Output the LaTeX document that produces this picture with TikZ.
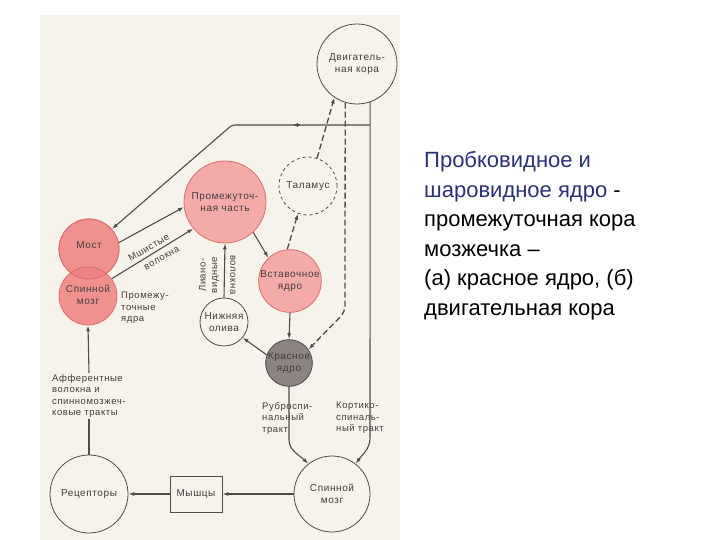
\documentclass[tikz,border=0pt]{standalone}
\usepackage{fontspec}
\setmainfont{Liberation Sans}
\newfontfamily\diagfont[LetterSpace=6]{Liberation Sans}
\usetikzlibrary{arrows.meta}
\definecolor{bg}{RGB}{246,243,236}
\definecolor{ln}{RGB}{80,76,74}
\definecolor{txt}{RGB}{65,62,60}
\definecolor{pinkL}{RGB}{245,170,170}
\definecolor{pinkM}{RGB}{240,128,128}
\definecolor{pinkD}{RGB}{222,110,110}
\definecolor{rednuc}{RGB}{140,132,130}
\definecolor{navy}{RGB}{42,50,118}
\tikzset{
  circ/.style={circle, draw=ln, line width=0.8pt, inner sep=0pt, align=center,
    font=\diagfont\fontsize{10}{11.5}\selectfont, text=txt},
  pinkc/.style={circ, draw=pinkD, fill=pinkL},
  conn/.style={draw=ln, line width=1.1pt, -{Latex[length=6pt,width=4pt]}},
  plain/.style={draw=ln, line width=1.1pt},
  dconn/.style={conn, dash pattern=on 6pt off 3pt},
  lbl/.style={font=\diagfont\fontsize{9.5}{11.5}\selectfont, text=txt, align=left, inner sep=1pt},
  rtxt/.style={font=\fontsize{22}{29.5}\selectfont, anchor=base west, inner sep=0pt}
}
\begin{document}
\begin{tikzpicture}[x=1pt,y=-1pt]
\useasboundingbox (0,0) rectangle (720,540);
\fill[white] (0,0) rectangle (720,540);
\fill[bg] (40,15) rectangle (400,540);

% nodes
\node[circ, minimum size=80pt] (motor) at (357,64) {Двигатель-\\ная кора};
\node[circ, dashed, minimum size=58pt] (thal) at (308,186) {Таламус};
\node[pinkc, minimum size=82pt] (interm) at (225,202) {Промежуточ-\\ная часть};
\node[pinkc, minimum size=58pt] (vst) at (290,281) {Вставочное\\ядро};
\node[circ, minimum size=48pt] (oliva) at (224,322) {Нижняя\\олива};
\node[circ, fill=rednuc, minimum size=46pt] (red) at (289,363) {Красное\\ядро};
\node[pinkc, fill=pinkM, fill opacity=0.85, text opacity=1, minimum size=60pt] (most) at (89,249) {};
\node[pinkc, fill=pinkM, fill opacity=0.85, text opacity=1, minimum size=58pt] (spin1) at (88,296) {};
\draw[pinkD, line width=0.8pt] (most) circle (30pt);
\node[circ, draw=none] (mostT) at (89,245) {Мост};
\node[circ, draw=none] (spin1T) at (88,295) {Спинной\\мозг};
\node[circ, minimum size=78pt] (rec) at (89,494) {Рецепторы};
\node[rectangle, draw=ln, line width=0.8pt, minimum width=52pt, minimum height=36pt,
  font=\diagfont\fontsize{10}{11.5}\selectfont, text=txt] (mus) at (196,494) {Мышцы};
\node[circ, minimum size=76pt] (spin2) at (332,494) {Спинной\\мозг};

% labels
\node[lbl, anchor=west] (aff) at (51,396) {Афферентные\\волокна и\\спинномозжеч-\\ковые тракты};
\node[lbl, anchor=north west] (prom) at (120,291) {Промежу-\\точные\\ядра};
\node[lbl, anchor=north west, fill=bg] (rubro) at (261,401) {Руброспи-\\нальный\\тракт};
\node[lbl, anchor=north west, fill=bg] (cortico) at (335,401) {Кортико-\\спиналь-\\ный тракт};
\node[lbl, rotate=30, align=center, font=\diagfont\fontsize{9.5}{15}\selectfont] (msh) at (152.5,254) {Мшистые\\\hspace*{12pt}волокна};
\node[lbl, rotate=90, align=center] (lian) at (209,275) {Лиано-\\видные};
\node[lbl, rotate=-90] (lian2) at (233,275) {волокна};

% coordinates
\coordinate (b1) at (370,125);
\coordinate (b2) at (232,125);
\coordinate (b3) at (345,312);
\coordinate (r1) at (289,440);
\coordinate (r2) at (370,438);

% connectors
\draw[conn] (aff.north -| rec.north) -- (spin1.south);
\draw[plain] (rec.north) -- (aff.south -| rec.north);
\draw[conn] (mus) -- (rec);
\draw[conn] (spin2) -- (mus);
\draw[conn] (red.south) -- (r1) .. controls (289,450) and (299,455) .. (spin2.128);
\draw[conn] (motor.-71) -- (r2) .. controls (370,449) and (362,455) .. (spin2.52);
\draw[conn, rounded corners=3pt] (b1) -- (b2) -- (most.41);
\draw[conn] (300,125) -- (292,125);
\draw[dconn, line width=1.3pt, rounded corners=6pt] (motor.-107) -- (b3) -- (red.35);
\draw[dconn, line width=1.3pt] (thal.72) -- (motor.236);
\draw[dconn, line width=1.3pt] (vst.95) -- (thal.-110);
\draw[conn] (interm.-47) -- (vst.133);
\draw[conn] (vst.south) -- (red.north);
\draw[conn] (red.160) -- (oliva.-40);
\draw[conn] (oliva.north) -- (interm.south);
\draw[conn] (most.12) -- (interm.187);
\draw[conn] (spin1.36) -- (interm.220);

% right text
\node[rtxt, text=navy] (t1) at (424,167.5) {Пробковидное и};
\node[rtxt] (t2) at (424,197) {\textcolor{navy}{шаровидное ядро} -};
\node[rtxt] (t3) at (424,226.5) {промежуточная кора};
\node[rtxt] (t4) at (424,256) {мозжечка –};
\node[rtxt] (t5) at (424,285.5) {(а) красное ядро, (б)};
\node[rtxt] (t6) at (424,315) {двигательная кора};
\end{tikzpicture}
\end{document}
